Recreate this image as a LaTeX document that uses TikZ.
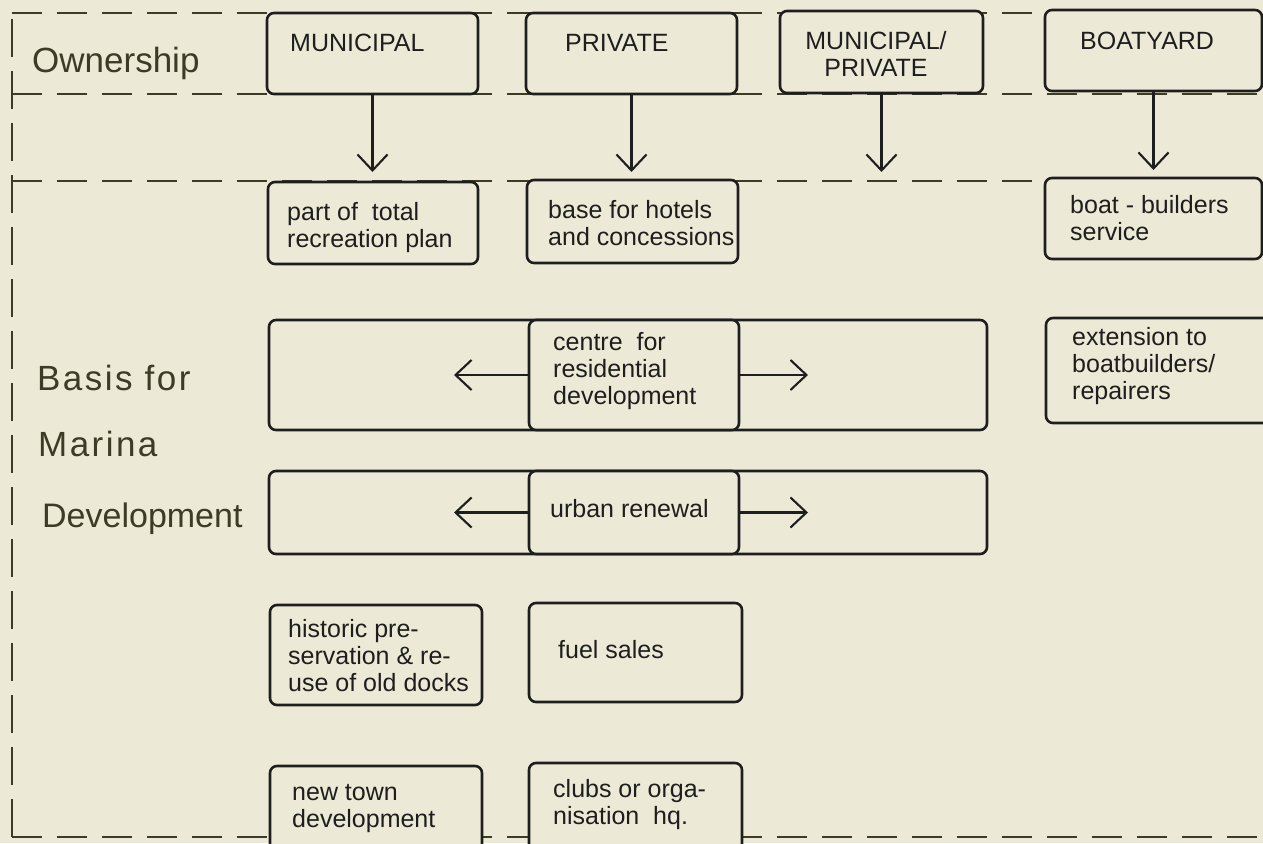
\documentclass[tikz,border=0pt]{standalone}
\usepackage{fontspec}
\setmainfont{Liberation Sans}
\newfontfamily\lblsp[LetterSpace=7]{Liberation Sans}
\usetikzlibrary{arrows.meta}
\definecolor{paper}{RGB}{236,234,214}
\definecolor{ink}{RGB}{30,30,30}
\definecolor{olive}{RGB}{60,60,38}
\newcommand\lns[2][l]{\begin{tabular}[t]{@{}#1@{}}#2\end{tabular}}
\begin{document}
\begin{tikzpicture}[x=1pt,y=-1pt,
  boxst/.style={draw=ink, line width=2.6pt, rounded corners=7pt, fill=paper, inner sep=0pt},
  hdsh/.style={draw=olive, line width=1.9pt, dash pattern=on 30pt off 15pt},
  vdsh/.style={draw=olive, line width=1.9pt, dash pattern=on 38pt off 14pt},
  arr/.style={draw=ink, line width=2.1pt, -{Straight Barb[length=16pt,width=30pt]}},
  txt/.style={inner sep=0pt, anchor=base west, text=ink, font=\fontsize{25}{27}\selectfont},
  lbl/.style={inner sep=0pt, anchor=base west, text=olive, font=\fontsize{35}{40}\selectfont}]
\useasboundingbox (0,0) rectangle (1263,843);
\fill[paper] (0,0) rectangle (1263,843);
\clip (0,0) rectangle (1263,843);

% frame and band lines
\draw[hdsh] (12,13) -- (1263,13);
\draw[hdsh] (12,94) -- (1263,94);
\draw[hdsh] (12,181) -- (1263,181);
\draw[hdsh] (12,837) -- (1263,837);
\draw[vdsh] (12,837) -- (12,13);

% ownership row
\node[boxst, minimum width=211pt, minimum height=81pt] (mun) at (372.5,53.5) {};
\node[boxst, minimum width=211pt, minimum height=81pt] (priv) at (631.5,53.5) {};
\node[boxst, minimum width=203pt, minimum height=82pt] (mp) at (881.5,52) {};
\node[boxst, minimum width=217pt, minimum height=81pt] (boat) at (1153.5,50.5) {};

% second row
\node[boxst, minimum width=210pt, minimum height=82pt] (rec) at (373,223) {};
\node[boxst, minimum width=211pt, minimum height=83pt] (hotel) at (632.5,221.5) {};
\node[boxst, minimum width=217pt, minimum height=81pt] (bb) at (1153.5,218.5) {};

% residential
\node[boxst, minimum width=718pt, minimum height=110pt] (resbig) at (628,375) {};
\node[boxst, minimum width=210pt, minimum height=110pt] (res) at (634,375) {};
\node[boxst, minimum width=229pt, minimum height=105pt] (ext) at (1160.5,370.5) {};

% urban renewal
\node[boxst, minimum width=718pt, minimum height=83pt] (urbbig) at (628,512.5) {};
\node[boxst, minimum width=210pt, minimum height=83pt] (urb) at (634,512.5) {};

% lower boxes
\node[boxst, minimum width=212pt, minimum height=100pt] (hist) at (376,655) {};
\node[boxst, minimum width=213pt, minimum height=99pt] (fuel) at (635.5,652.5) {};
\node[boxst, minimum width=212pt, minimum height=94pt] (newt) at (376,813) {};
\node[boxst, minimum width=213pt, minimum height=97pt] (club) at (635.5,811.5) {};

% arrows
\coordinate (munE) at (372.5,172);
\coordinate (privE) at (631.5,172);
\coordinate (mpE) at (881.5,172);
\coordinate (boatE) at (1153.5,170);
\draw[arr] (mun) -- (munE);
\draw[arr] (priv) -- (privE);
\draw[arr] (mp) -- (mpE);
\draw[arr] (boat) -- (boatE);
\coordinate (resL) at (454,375);
\coordinate (resR) at (808,375);
\coordinate (urbL) at (454,512.5);
\coordinate (urbR) at (808,512.5);
\draw[arr] (res) -- (resL);
\draw[arr] (res) -- (resR);
\draw[arr] (urb) -- (urbL);
\draw[arr] (urb) -- (urbR);

% texts
\node[txt] (munT) at (290,52) {MUNICIPAL};
\node[txt] (privT) at (565,52) {PRIVATE};
\node[txt, anchor=base] (mpT) at (876,50) {\lns[c]{MUNICIPAL/\\PRIVATE}};
\node[txt] (boatT) at (1080,49) {BOATYARD};
\node[txt] (recT) at (287,220) {\lns{part of \ total\\recreation plan}};
\node[txt] (hotelT) at (548,218) {\lns{base for hotels\\and concessions}};
\node[txt] (bbT) at (1070,213) {\lns{boat - builders\\service}};
\node[txt] (resT) at (553,350) {\lns{centre \ for\\residential\\development}};
\node[txt] (extT) at (1072,345) {\lns{extension to\\boatbuilders/\\repairers}};
\node[txt] (urbT) at (550,517) {urban renewal};
\node[txt] (histT) at (288,637) {\lns{historic pre-\\servation \& re-\\use of old docks}};
\node[txt] (fuelT) at (558,658) {fuel sales};
\node[txt] (newtT) at (292,800) {\lns{new town\\development}};
\node[txt] (clubT) at (553,797) {\lns{clubs or orga-\\nisation \ hq.}};

\node[lbl] (own) at (32,72) {Ownership};
\node[lbl] (basis) at (37,390) {\lblsp Basis for};
\node[lbl] (marina) at (38,456) {\lblsp Marina};
\node[lbl, font=\fontsize{34}{40}\selectfont] (devel) at (42,527) {Development};
\end{tikzpicture}
\end{document}
